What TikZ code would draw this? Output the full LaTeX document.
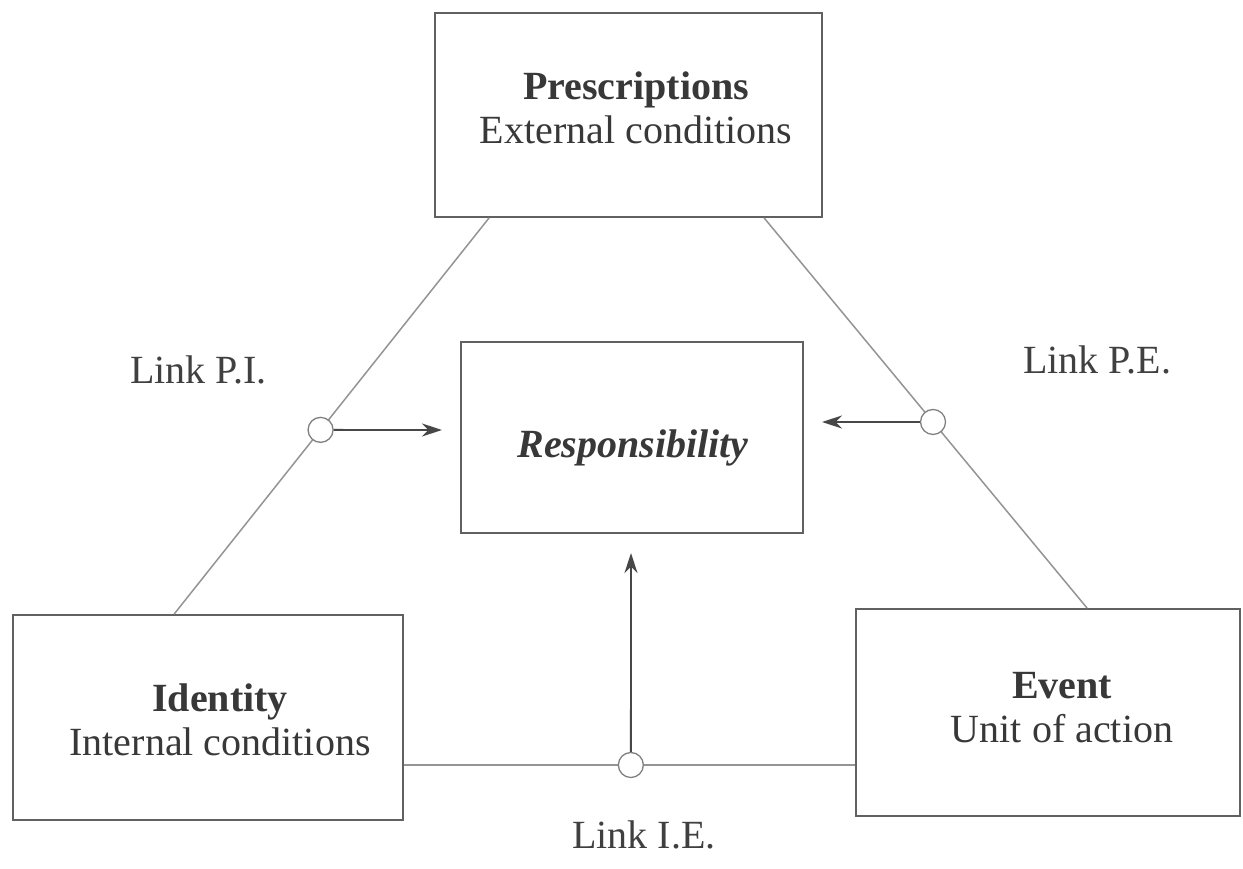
\documentclass[tikz,border=0pt]{standalone}
\usepackage{fontspec}
\setmainfont{Liberation Serif}
\usetikzlibrary{arrows.meta}
\begin{document}
\begin{tikzpicture}[x=1pt,y=-1pt,
  box/.style={draw=black!62, line width=1.8pt, inner sep=0pt},
  txt/.style={text=black!78, align=center, inner sep=0pt, font=\fontsize{40}{44}\selectfont},
  link/.style={draw=black!42, line width=1.5pt},
  ring/.style={circle, draw=black!50, fill=white, line width=1.3pt, minimum size=25pt, inner sep=0pt},
  arr/.style={draw=black!72, line width=1.8pt, -{Stealth[length=20pt,width=13pt]}},
  lbl/.style={text=black!75, inner sep=0pt, font=\fontsize{40}{44}\selectfont, anchor=base west}]
\fill[white] (0,0) rectangle (1243,868);
\useasboundingbox (0,0) rectangle (1243,868);

% boxes
\node[box, minimum width=387pt, minimum height=204pt] (P) at (628.5,115) {};
\node[box, minimum width=342pt, minimum height=191pt] (R) at (632,437.5) {};
\node[box, minimum width=390pt, minimum height=205pt] (I) at (208,717.5) {};
\node[box, minimum width=384pt, minimum height=207pt] (E) at (1048,712.5) {};

% box texts
\node[txt] (Ptext) at (636,108) {\textbf{Prescriptions}\\External conditions};
\node[txt] (Rtext) at (633,447.7) {\textbf{\textit{Responsibility}}};
\node[txt] (Itext) at (220,720) {\textbf{Identity}\\Internal conditions};
\node[txt] (Etext) at (1062,708) {\textbf{Event}\\Unit of action};

% connector end points on the box borders
\coordinate (pl) at ([xshift=55pt]P.south west);
\coordinate (il) at ([xshift=162pt]I.north west);
\coordinate (pr) at ([xshift=330pt]P.south west);
\coordinate (er) at ([xshift=232pt]E.north west);
\coordinate (ih) at (I.east |- 0,765);
\coordinate (eh) at (E.west |- 0,765);

% triangle links with their circles
\draw[link] (pl) -- (il) node[ring, pos=0.535] (c1) {};
\draw[link] (pr) -- (er) node[ring, pos=0.523] (c2) {};
\draw[link] (ih) -- (eh) node[ring, pos=0.503] (c3) {};

% arrows to Responsibility
\coordinate (t1) at (442,430);
\coordinate (t2) at (822,422);
\coordinate (t3) at (631,553);
\draw[arr] (c1) -- (t1);
\draw[arr] (c2) -- (t2);
\draw[arr] (c3) -- (t3);

% link labels
\node[lbl] (LPI) at (130,383) {Link P.I.};
\node[lbl] (LPE) at (1023,373) {Link P.E.};
\node[lbl] (LIE) at (572,848) {Link I.E.};
\end{tikzpicture}
\end{document}
